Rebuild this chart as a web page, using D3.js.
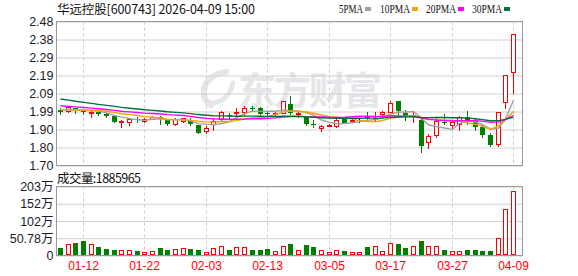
<!DOCTYPE html>
<html>
<head>
<meta charset="utf-8">
<script src="https://cdn.jsdelivr.net/npm/d3@7"></script>
<style>
    html, body { margin: 0; padding: 0; background: #fff; }
    svg { display: block; }
</style>
</head>
<body>
<svg id="chart" width="578" height="276"></svg>
<script>
// --- Data ---
const dates = [
    '01-07','01-08','01-09','01-12','01-13','01-14','01-15','01-16','01-19','01-20',
    '01-21','01-22','01-23','01-26','01-27','01-28','01-29','01-30','02-02','02-03',
    '02-04','02-05','02-06','02-09','02-10','02-11','02-12','02-13','02-24','02-25',
    '02-26','02-27','03-02','03-03','03-04','03-05','03-06','03-09','03-10','03-11',
    '03-12','03-13','03-16','03-17','03-18','03-19','03-20','03-23','03-24','03-25',
    '03-26','03-27','03-30','03-31','04-01','04-02','04-03','04-07','04-08','04-09'
];
const open = [
    2.00, 1.995, 2.01, 1.995, 1.985, 1.99, 1.98, 1.97, 1.935, 1.935,
    1.95, 1.94, 1.952, 1.965, 1.945, 1.925, 1.943, 1.947, 1.92, 1.888,
    1.925, 1.95, 1.975, 1.985, 1.99, 2.013, 2.013, 1.982, 1.98, 1.987,
    2.035, 1.983, 1.965, 1.927, 1.905, 1.918, 1.915, 1.95, 1.94, 1.945,
    1.962, 1.958, 1.977, 1.99, 2.048, 1.985, 1.972, 1.944, 1.828, 1.865,
    1.935, 1.918, 1.925, 1.963, 1.94, 1.91, 1.865, 1.815, 2.045, 2.205
];
const high = [
    2.01, 2.025, 2.01, 2.00, 2.00, 1.99, 1.985, 1.975, 1.945, 1.96,
    1.965, 1.955, 1.97, 1.97, 1.95, 1.96, 1.96, 1.955, 1.922, 1.915,
    1.95, 1.995, 1.985, 2.01, 2.02, 2.025, 2.015, 1.99, 1.99, 2.05,
    2.075, 1.995, 1.967, 1.945, 1.92, 1.925, 1.962, 1.96, 1.955, 1.955,
    1.99, 1.99, 1.995, 2.048, 2.05, 2.00, 1.99, 1.955, 1.873, 1.955,
    1.98, 1.945, 1.97, 1.995, 1.958, 1.922, 1.877, 1.99, 2.19, 2.41
];
const low = [
    1.98, 1.99, 1.985, 1.98, 1.965, 1.975, 1.965, 1.935, 1.91, 1.92,
    1.935, 1.935, 1.95, 1.925, 1.92, 1.92, 1.935, 1.92, 1.875, 1.875,
    1.895, 1.945, 1.96, 1.975, 1.975, 1.995, 1.975, 1.975, 1.97, 1.985,
    1.98, 1.965, 1.92, 1.91, 1.887, 1.915, 1.908, 1.93, 1.935, 1.935,
    1.95, 1.945, 1.972, 1.99, 1.98, 1.945, 1.935, 1.772, 1.795, 1.855,
    1.925, 1.905, 1.895, 1.925, 1.895, 1.855, 1.805, 1.805, 2.013, 2.094
];
const close = [
    1.99, 2.015, 2.00, 1.99, 1.99, 1.977, 1.967, 1.935, 1.94, 1.95,
    1.947, 1.95, 1.965, 1.95, 1.925, 1.953, 1.955, 1.925, 1.877, 1.905,
    1.942, 1.988, 1.972, 1.99, 2.013, 2.01, 1.98, 1.98, 1.985, 2.047,
    1.983, 1.985, 1.925, 1.924, 1.915, 1.92, 1.947, 1.932, 1.945, 1.945,
    1.96, 1.96, 1.99, 2.036, 1.995, 1.967, 1.975, 1.805, 1.862, 1.943,
    1.932, 1.937, 1.963, 1.935, 1.91, 1.865, 1.81, 1.99, 2.19, 2.41
];
const volume = [
    211000, 350000, 358000, 417000, 350000, 240000, 182000, 153000, 172000, 172000,
    123000, 104000, 133000, 210000, 153000, 202000, 231000, 182000, 153000, 104000,
    221000, 280000, 153000, 260000, 260000, 153000, 153000, 182000, 143000, 280000,
    328000, 172000, 300000, 240000, 172000, 104000, 172000, 123000, 104000, 113000,
    240000, 269000, 143000, 378000, 328000, 210000, 269000, 417000, 269000, 269000,
    153000, 143000, 143000, 153000, 153000, 123000, 123000, 525000, 1376000, 1885965
];
// closes before 01-07 (estimated from where the MA lines start)
const seedCloses = [
    2.20, 2.19, 2.17, 2.15, 2.14, 2.12, 2.11, 2.10, 2.09, 2.07,
    2.07, 2.06, 2.06, 2.05, 2.05, 2.04, 2.04, 2.03, 2.02, 2.02,
    2.01, 2.01, 2.00, 2.00, 2.005, 2.00, 2.01, 2.00, 2.00
];

const xTickLabels     = ['01-12', '01-22', '02-03', '02-13', '03-05', '03-17', '03-27', '04-09'];
const priceTickLabels = ['1.70', '1.80', '1.90', '1.99', '2.09', '2.19', '2.29', '2.38', '2.48'];
const volTickLabels   = ['0', '50.78万', '102万', '152万', '203万'];
const maPeriods = [5, 10, 20, 30];
const maNames   = ['5PMA', '10PMA', '20PMA', '30PMA'];
const maColors  = ['#a0a0a0', '#f2a30f', '#ff00ff', '#00703a'];

// --- Layout ---
const plotL = 56.5, plotR = 522.5;
const priceTop = 21.5, priceBot = 165.5;
const volTop = 186.5, volBot = 255.5;
const priceMin = 1.70, priceMax = 2.48;
const volMax = 2031200;
const UP = '#ff0000', DOWN = '#008000';

const svg = d3.select('#chart');
svg.append('rect').attr('width', 578).attr('height', 276).attr('fill', '#fff');

// --- Scales ---
const x = d3.scaleBand().domain(dates).range([56, 56 + dates.length * 7.68]);
const cx = d => Math.round(x(d) + x.bandwidth() / 2) + 0.5;
const yP = d3.scaleLinear().domain([priceMin, priceMax]).range([priceBot, priceTop]);
const yV = d3.scaleLinear().domain([0, volMax]).range([volBot, volTop]);

const priceTicks = d3.range(priceTickLabels.length).map(k => priceMin + k * (priceMax - priceMin) / (priceTickLabels.length - 1));
const volTicks   = d3.range(volTickLabels.length).map(k => k * volMax / (volTickLabels.length - 1));

// --- Watermark ---
const wm = svg.append('g').attr('fill', 'none').attr('stroke', '#e6e6ea').attr('stroke-linecap', 'round');
wm.append('path').attr('stroke-width', 6).attr('d', 'M226 72 C205 74 196 96 211 105');
wm.append('path').attr('stroke-width', 5).attr('d', 'M233 83 C230 97 220 104 207 103');
svg.append('text')
    .attr('x', 238).attr('y', 104)
    .attr('font-family', '"Noto Sans CJK SC", sans-serif')
    .attr('font-weight', 700)
    .attr('font-size', 38)
    .attr('textLength', 144)
    .attr('fill', '#e6e6ea')
    .text('东方财富');

// --- Grids ---
function hGrid(scale, ticks) {
    svg.append('g')
        .attr('transform', `translate(${plotL},0)`)
        .call(d3.axisLeft(scale).tickValues(ticks).tickSize(-(plotR - plotL)).tickFormat(''))
        .call(g => g.select('.domain').remove())
        .call(g => g.selectAll('line').attr('stroke', '#d0d0d0'));
}
hGrid(yP, priceTicks);
hGrid(yV, volTicks);

function vGrid(top, bot) {
    svg.append('g').selectAll('line')
        .data(xTickLabels).join('line')
        .attr('x1', cx).attr('x2', cx)
        .attr('y1', top).attr('y2', bot)
        .attr('stroke', '#cccccc')
        .attr('stroke-dasharray', '3,3');
}
vGrid(priceTop, priceBot);
vGrid(volTop, volBot);

// --- Frames ---
[[priceTop, priceBot], [volTop, volBot]].forEach(([t, b]) => {
    svg.append('rect')
        .attr('x', plotL).attr('y', t)
        .attr('width', plotR - plotL).attr('height', b - t)
        .attr('fill', 'none').attr('stroke', '#999');
});

// --- Candles ---
const rows = dates.map((d, i) => ({ d, o: open[i], h: high[i], l: low[i], c: close[i], v: volume[i] }));
const candle = svg.append('g').selectAll('g').data(rows).join('g');

candle.append('line')
    .attr('x1', r => cx(r.d)).attr('x2', r => cx(r.d))
    .attr('y1', r => Math.round(yP(r.h))).attr('y2', r => Math.round(yP(r.l)) + 1)
    .attr('stroke', r => r.c > r.o ? UP : r.c < r.o ? DOWN : '#000');

candle.each(function (r) {
    const g = d3.select(this);
    const c = cx(r.d);
    const top = Math.round(yP(Math.max(r.o, r.c)));
    const bot = Math.round(yP(Math.min(r.o, r.c)));
    if (r.c > r.o) {
        g.append('rect')
            .attr('x', c - 2).attr('y', top + 0.5)
            .attr('width', 4).attr('height', Math.max(bot - top, 1))
            .attr('fill', '#fff').attr('stroke', UP);
    } else if (r.c < r.o) {
        g.append('rect')
            .attr('x', c - 2.5).attr('y', top)
            .attr('width', 5).attr('height', Math.max(bot - top, 1))
            .attr('fill', DOWN);
    } else {
        g.append('line')
            .attr('x1', c - 2.5).attr('x2', c + 2.5)
            .attr('y1', top + 0.5).attr('y2', top + 0.5)
            .attr('stroke', '#000');
    }
});

// --- Moving averages ---
const allCloses = seedCloses.concat(close);
const off = seedCloses.length;
maPeriods.forEach((n, k) => {
    const ma = close.map((_, i) => d3.mean(allCloses.slice(off + i - n + 1, off + i + 1)));
    svg.append('path')
        .datum(ma)
        .attr('fill', 'none')
        .attr('stroke', maColors[k])
        .attr('stroke-width', 1.4)
        .attr('d', d3.line().x((v, i) => cx(dates[i])).y(v => yP(v)));
});

// --- Volume bars ---
svg.append('g').selectAll('rect').data(rows).join('rect')
    .each(function (r) {
        const c = cx(r.d);
        const top = Math.round(yV(r.v));
        const sel = d3.select(this);
        if (r.c >= r.o) {
            sel.attr('x', c - 2).attr('y', top + 0.5)
                .attr('width', 4).attr('height', Math.max(254.5 - (top + 0.5), 1))
                .attr('fill', '#fff').attr('stroke', UP);
        } else {
            sel.attr('x', c - 2.5).attr('y', top)
                .attr('width', 5).attr('height', 255 - top)
                .attr('fill', DOWN);
        }
    });

// --- Axes labels ---
function yLabels(scale, ticks, labels) {
    svg.append('g')
        .attr('transform', `translate(${plotL},0)`)
        .call(d3.axisLeft(scale).tickValues(ticks).tickSize(0).tickPadding(3).tickFormat((d, i) => labels[i]))
        .call(g => g.select('.domain').remove())
        .call(g => g.selectAll('text')
            .attr('font-family', '"Liberation Sans", "Noto Sans CJK SC", sans-serif')
            .attr('font-size', 12.5)
            .attr('fill', '#1a1a2a'));
}
yLabels(yP, priceTicks, priceTickLabels);
yLabels(yV, volTicks, volTickLabels);

svg.append('g').selectAll('text')
    .data(xTickLabels).join('text')
    .attr('x', cx).attr('y', 270)
    .attr('text-anchor', 'middle')
    .attr('font-family', '"Liberation Sans", sans-serif')
    .attr('font-size', 12)
    .attr('fill', UP)
    .text(d => d);

// --- Titles ---
svg.append('text')
    .attr('x', 57).attr('y', 14)
    .attr('font-family', '"Noto Sans CJK SC", sans-serif')
    .attr('font-size', 12.5)
    .attr('textLength', 198)
    .attr('fill', '#111')
    .text('华远控股[600743] 2026-04-09 15:00');

svg.append('text')
    .attr('x', 57).attr('y', 182.5)
    .attr('font-family', '"Noto Sans CJK SC", sans-serif')
    .attr('font-size', 12.5)
    .attr('textLength', 84)
    .attr('fill', '#111')
    .text('成交量:' + volume[volume.length - 1]);

// --- Legend ---
const legendX = [339, 380, 426, 472];
const legend = svg.append('g').selectAll('g').data(maNames).join('g')
    .attr('transform', (d, i) => `translate(${legendX[i]},0)`);
legend.append('text')
    .attr('x', 0).attr('y', 13)
    .attr('font-family', '"Liberation Serif", serif')
    .attr('font-size', 12.5)
    .attr('textLength', d => d.length * 6)
    .attr('lengthAdjust', 'spacingAndGlyphs')
    .attr('fill', '#111')
    .text(d => d);
legend.append('rect')
    .attr('x', d => d.length * 6 + 2).attr('y', 7)
    .attr('width', 6).attr('height', 4)
    .attr('fill', (d, i) => maColors[i]);
</script>
</body>
</html>
